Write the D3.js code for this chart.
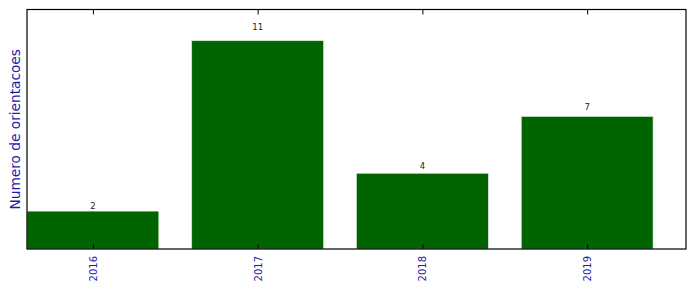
<!DOCTYPE html>
<html><head><meta charset="utf-8">
<script src="https://cdn.jsdelivr.net/npm/d3@7"></script>
<style>body{margin:0;background:#fff}svg{display:block}</style>
</head><body>
<script>
const categories = ["2016", "2017", "2018", "2019"];
const values = [2, 11, 4, 7];
const yLabel = "Numero de orientacoes";

const W = 696, H = 292;
const m = {left: 27, right: 10, top: 9.5, bottom: 43};
const svg = d3.select("body").append("svg").attr("width", W).attr("height", H);
const pw = W - m.left - m.right, ph = H - m.top - m.bottom;

const x = d3.scaleLinear().domain([-0.4, categories.length - 0.4]).range([m.left, m.left + pw]);
const y = d3.scaleLinear().domain([0, d3.max(values) * 1.15]).range([m.top + ph, m.top]);
const bw = 0.8;

svg.append("g").selectAll("rect").data(values).join("rect")
  .attr("x", (d, i) => x(i - bw / 2))
  .attr("width", x(bw) - x(0))
  .attr("y", d => y(d))
  .attr("height", d => y(0) - y(d))
  .attr("fill", "#006400")
  .attr("stroke", "#d8e8d8").attr("stroke-width", 0.6);

svg.append("g").selectAll("text").data(values).join("text")
  .attr("x", (d, i) => x(i))
  .attr("y", d => y(d * 1.05))
  .attr("text-anchor", "middle")
  .attr("font-family", "DejaVu Sans").attr("font-size", 8.5)
  .attr("fill", "#222")
  .text(d => d);

// bottom axis: inward ticks, rotated labels
const xb = d3.axisBottom(x).tickValues(d3.range(categories.length))
  .tickFormat(i => categories[i]).tickSizeInner(-5).tickSizeOuter(0).tickPadding(8);
const gb = svg.append("g").attr("transform", `translate(0,${m.top + ph})`).call(xb);
gb.select(".domain").remove();
gb.selectAll(".tick line").attr("stroke", "#000");
gb.selectAll(".tick text")
  .attr("font-family", "DejaVu Sans").attr("font-size", 10).attr("fill", "#1c1ca8")
  .attr("transform", "rotate(-90)")
  .attr("x", -7).attr("y", 0).attr("dy", "0.35em")
  .attr("text-anchor", "end");

// top axis ticks
const xt = d3.axisTop(x).tickValues(d3.range(categories.length))
  .tickFormat("").tickSizeInner(-5).tickSizeOuter(0);
const gt = svg.append("g").attr("transform", `translate(0,${m.top})`).call(xt);
gt.select(".domain").remove();
gt.selectAll(".tick line").attr("stroke", "#000");

// frame
svg.append("rect").attr("x", m.left).attr("y", m.top).attr("width", pw).attr("height", ph)
  .attr("fill", "none").attr("stroke", "#000").attr("stroke-width", 1.2);

svg.append("text")
  .attr("transform", `translate(20,${m.top + ph / 2}) rotate(-90)`)
  .attr("text-anchor", "middle")
  .attr("font-family", "DejaVu Sans").attr("font-size", 13.7)
  .attr("fill", "#1c1ca8")
  .text(yLabel);
</script>
</body></html>
